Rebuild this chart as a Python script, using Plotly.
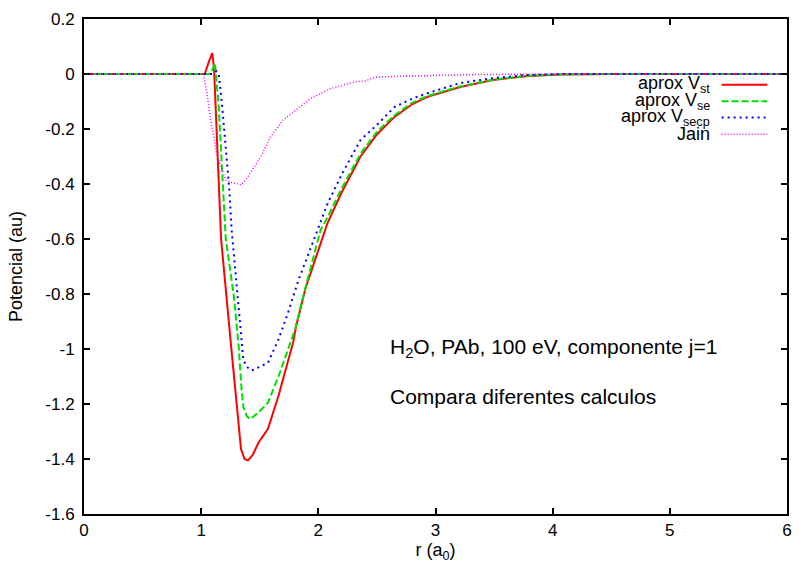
import plotly.graph_objects as go

# ---- data ----
x_st = [0, 1.03, 1.07, 1.095, 1.11, 1.17, 1.25, 1.34, 1.37, 1.40, 1.44, 1.49, 1.57, 1.66,
        1.785, 1.81, 1.89, 2.0, 2.08, 2.2, 2.36, 2.5, 2.65, 2.8, 2.93, 3.21, 3.49, 3.77,
        4.05, 4.5, 6]
y_st = [0, 0, 0.05, 0.076, 0.02, -0.60, -0.965, -1.364, -1.40, -1.405, -1.385, -1.34,
        -1.29, -1.17, -0.976, -0.918, -0.78, -0.64, -0.54, -0.43, -0.30, -0.22, -0.156,
        -0.11, -0.083, -0.047, -0.022, -0.008, -0.002, 0, 0]

x_se = [0, 1.08, 1.10, 1.117, 1.15, 1.18, 1.21, 1.28, 1.32, 1.345, 1.36, 1.39, 1.42,
        1.49, 1.57, 1.66, 1.74, 1.80, 1.87, 2.02, 2.08, 2.2, 2.36, 2.5, 2.65, 2.8, 2.93,
        3.21, 3.49, 3.77, 4.05, 4.5, 6]
y_se = [0, 0, 0.02, 0.04, -0.12, -0.36, -0.60, -0.81, -0.99, -1.147, -1.21, -1.245,
        -1.255, -1.23, -1.195, -1.10, -1.0, -0.93, -0.81, -0.566, -0.52, -0.415, -0.29,
        -0.21, -0.15, -0.105, -0.08, -0.045, -0.021, -0.007, -0.002, 0, 0]

x_secp = [0, 1.10, 1.13, 1.15, 1.18, 1.24, 1.26, 1.30, 1.34, 1.36, 1.39, 1.43, 1.50,
          1.57, 1.66, 1.74, 1.83, 1.97, 2.08, 2.2, 2.36, 2.5, 2.65, 2.8, 2.93, 3.21,
          3.49, 3.77, 4.1, 6]
y_secp = [0, 0, 0.01, 0, -0.12, -0.42, -0.566, -0.75, -0.93, -1.04, -1.065, -1.078,
          -1.065, -1.05, -0.965, -0.87, -0.75, -0.59, -0.47, -0.365, -0.24, -0.185, -0.12,
          -0.09, -0.07, -0.033, -0.015, -0.004, 0, 0]

x_jain = [0, 1.02, 1.05, 1.08, 1.11, 1.13, 1.21, 1.26, 1.34, 1.40, 1.51, 1.59, 1.70,
          1.81, 1.94, 2.11, 2.31, 2.40, 2.48, 2.7, 3.0, 3.35, 4.0, 6]
y_jain = [0, 0, -0.07, -0.167, -0.23, -0.29, -0.385, -0.395, -0.403, -0.373, -0.30,
          -0.23, -0.167, -0.13, -0.088, -0.052, -0.029, -0.025, -0.012, -0.008, -0.005,
          -0.002, 0, 0]

series_names = ["aprox V<sub>st</sub>", "aprox V<sub>se</sub>",
                "aprox V<sub>secp</sub>", "Jain"]
series_colors = ["#ff0000", "#00e000", "#0000ff", "#ff00ff"]
series_dash = ["solid", "7px,3px", "2px,4px", "1px,2px"]
series_width = [2, 2, 2, 1.5]

x_ticks = [0, 1, 2, 3, 4, 5, 6]
y_ticks = [0.2, 0, -0.2, -0.4, -0.6, -0.8, -1, -1.2, -1.4, -1.6]
y_ticktext = ["0.2", "0", "-0.2", "-0.4", "-0.6", "-0.8", "-1", "-1.2", "-1.4", "-1.6"]

FONT = "Liberation Sans, Arial, sans-serif"

fig = go.Figure()
xs = [x_st, x_se, x_secp, x_jain]
ys = [y_st, y_se, y_secp, y_jain]
for i in range(4):
    fig.add_trace(go.Scatter(x=xs[i], y=ys[i], mode="lines", name=series_names[i],
                             line=dict(color=series_colors[i], dash=series_dash[i],
                                       width=series_width[i]),
                             showlegend=False))

# gnuplot-like legend: text right-aligned, sample line on the right
leg_y = [0.867, 0.834, 0.801, 0.767]
for i in range(4):
    fig.add_annotation(xref="paper", yref="paper", x=0.893, y=leg_y[i],
                       text=series_names[i], showarrow=False, xanchor="right",
                       yanchor="middle", font=dict(family=FONT, size=18, color="black"))
    fig.add_shape(type="line", xref="paper", yref="paper", x0=0.907, x1=0.972,
                  y0=leg_y[i], y1=leg_y[i],
                  line=dict(color=series_colors[i], dash=series_dash[i],
                            width=series_width[i]))

fig.add_annotation(xref="paper", yref="paper", x=0.432, y=0.335,
                   text="H<sub>2</sub>O, PAb, 100 eV, componente j=1", showarrow=False,
                   xanchor="left", yanchor="middle",
                   font=dict(family=FONT, size=21, color="black"))
fig.add_annotation(xref="paper", yref="paper", x=0.432, y=0.238,
                   text="Compara diferentes calculos", showarrow=False,
                   xanchor="left", yanchor="middle",
                   font=dict(family=FONT, size=21, color="black"))

fig.update_layout(
    width=799, height=563,
    margin=dict(l=84, r=7, t=19, b=49),
    paper_bgcolor="white", plot_bgcolor="white",
    font=dict(family=FONT, size=17, color="black"),
    showlegend=False,
    xaxis=dict(range=[0, 6], tickvals=x_ticks, ticks="inside", ticklen=6,
               tickwidth=1.5, tickcolor="black", showline=True, linewidth=2,
               linecolor="black", mirror="ticks", showgrid=False, zeroline=False,
               title=dict(text="r (a<sub>0</sub>)", standoff=2,
                          font=dict(family=FONT, size=18))),
    yaxis=dict(range=[-1.6, 0.2], tickvals=y_ticks, ticktext=y_ticktext,
               ticks="inside", ticklen=6, tickwidth=1.5, tickcolor="black",
               ticklabelstandoff=4,
               showline=True, linewidth=2, linecolor="black", mirror="ticks",
               showgrid=False, zeroline=False,
               title=dict(text="Potencial (au)", standoff=18,
                          font=dict(family=FONT, size=18))),
)

fig.write_html("out.html")
